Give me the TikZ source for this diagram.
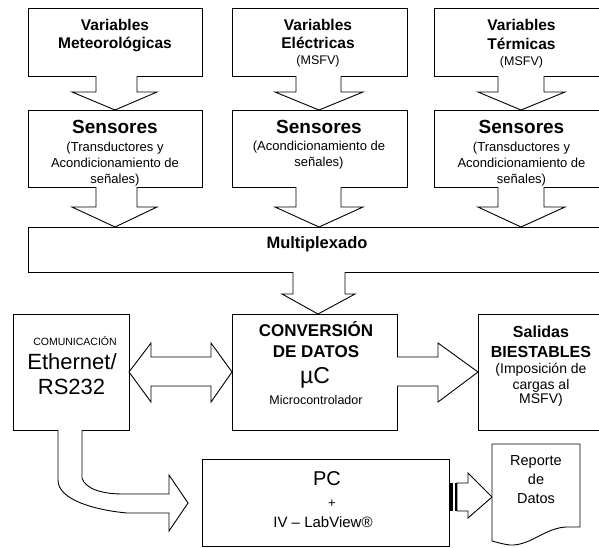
\documentclass[tikz,border=0pt]{standalone}
\usepackage{fontspec}
\setmainfont{Liberation Sans}
\usetikzlibrary{calc}
\newcommand\mergedarrow[3]{%
  \fill[white] #1 -- #3 -- #2 -- cycle;
  \draw[white, line width=1.6pt] #1 -- #2;
  \draw[ln] #1 -- #3 -- #2;
}
\begin{document}
\begin{tikzpicture}[x=1pt,y=-1pt,
  ln/.style={line width=0.9pt, line join=miter},
  box/.style={draw, ln, fill=white, inner sep=0pt, outer sep=0pt},
  t/.style={inner sep=0pt, anchor=base},
  fT/.style={t, font=\fontsize{15.5}{18}\selectfont\bfseries},
  fS/.style={t, font=\fontsize{19}{22}\selectfont\bfseries},
  fs/.style={t, font=\fontsize{13}{15}\selectfont},
  fm/.style={t, font=\fontsize{12.5}{14}\selectfont},
  fM/.style={t, font=\fontsize{16.5}{18}\selectfont\bfseries},
  fc/.style={t, font=\fontsize{10.5}{12}\selectfont},
  fE/.style={t, font=\fontsize{22}{24}\selectfont},
  fC/.style={t, font=\fontsize{17}{19}\selectfont\bfseries},
  fmu/.style={t, font=\fontsize{23}{25}\selectfont},
  fmi/.style={t, font=\fontsize{12.5}{14}\selectfont},
  fB/.style={t, font=\fontsize{16}{18}\selectfont\bfseries},
  fi/.style={t, font=\fontsize{14}{15}\selectfont},
  fP/.style={t, font=\fontsize{20}{22}\selectfont},
  fpl/.style={t, font=\fontsize{13}{14}\selectfont},
  fL/.style={t, font=\fontsize{15}{17}\selectfont},
  fr/.style={t, font=\fontsize{14.5}{16}\selectfont}]
\useasboundingbox (0,0) rectangle (599,547);
\fill[white] (0,0) rectangle (599,547);
\clip (0,0) rectangle (599,547);

% boxes
\node[box, minimum width=174pt, minimum height=68pt] (b1) at (115,42) {};
\node[box, minimum width=175pt, minimum height=68pt] (b2) at (319.5,42) {};
\node[box, minimum width=176pt, minimum height=68pt] (b3) at (522,42) {};
\node[box, minimum width=174pt, minimum height=77pt] (s1) at (115,148.5) {};
\node[box, minimum width=175pt, minimum height=77pt] (s2) at (319.5,148.5) {};
\node[box, minimum width=176pt, minimum height=77pt] (s3) at (522,148.5) {};
\node[box, minimum width=584pt, minimum height=45pt] (mux) at (320,249.5) {};
\node[box, minimum width=116pt, minimum height=116pt] (comm) at (71,372) {};
\node[box, minimum width=165pt, minimum height=116pt] (conv) at (314.5,372) {};
\node[box, minimum width=134pt, minimum height=116pt] (sal) at (545,372) {};
\node[box, minimum width=247pt, minimum height=87pt] (pc) at (325.5,502.5) {};
\node[inner sep=0pt, outer sep=0pt, minimum width=88pt, minimum height=97pt] (rep) at (536,492.5) {};

% down arrows
\mergedarrow{(96,0 |- b1.south)}{(137,0 |- b1.south)}{(96,92) -- (72,92) -- (115,0 |- s1.north) -- (157,92) -- (137,92)}
\mergedarrow{(296,0 |- b2.south)}{(341,0 |- b2.south)}{(296,92) -- (275,92) -- (319,0 |- s2.north) -- (363,92) -- (341,92)}
\mergedarrow{(498,0 |- b3.south)}{(544,0 |- b3.south)}{(498,92) -- (478,92) -- (521,0 |- s3.north) -- (565,92) -- (544,92)}
\mergedarrow{(96,0 |- s1.south)}{(137,0 |- s1.south)}{(96,207) -- (72,207) -- (115,0 |- mux.north) -- (157,207) -- (137,207)}
\mergedarrow{(296,0 |- s2.south)}{(341,0 |- s2.south)}{(296,207) -- (275,207) -- (319,0 |- mux.north) -- (363,207) -- (341,207)}
\mergedarrow{(498,0 |- s3.south)}{(544,0 |- s3.south)}{(498,207) -- (478,207) -- (521,0 |- mux.north) -- (565,207) -- (544,207)}
\mergedarrow{(293,0 |- mux.south)}{(345,0 |- mux.south)}{(293,294) -- (282,294) -- (318,0 |- conv.north) -- (355,294) -- (345,294)}

% double arrow
\draw[ln, fill=white] (comm.east) -- (151,343) -- (151,357) -- (211,357) -- (211,343) -- (conv.west)
  -- (211,402) -- (211,386) -- (151,386) -- (151,402) -- cycle;

% conv -> salidas
\mergedarrow{(conv.east |- 0,357)}{(conv.east |- 0,386)}{(438,357) -- (438,343) -- (sal.west) -- (438,402) -- (438,386)}

% curved arrow comm -> pc
\coordinate (ctip) at (188,503);
\mergedarrow{(58,0 |- comm.south)}{(82,0 |- comm.south)}{(58,480) .. controls (58,500) and (95,510) .. (127,513) -- (169,513) -- (169,531) -- (ctip) -- (169,475) -- (169,494) -- (123,494) .. controls (100,494) and (85,488) .. (82,478)}

% pc -> reporte striped arrow
\fill[black] (450,483) rectangle (452.5,511);
\fill[black] (454.5,483) rectangle (457,511);
\draw[ln, fill=white] (457,483) -- (468,483) -- (468,473) -- (rep.west |- 0,497) -- (468,518) -- (468,511) -- (457,511) -- cycle;

% document shape
\draw[ln, fill=white] (rep.north west) -- (rep.north east) -- (580,527) -- (566,527)
  .. controls (545,528) and (530,546) .. (510,545)
  .. controls (502,544) and (496,542) .. (rep.south west) -- cycle;

% texts
\node[fT] (b1a) at (115,30) {Variables};
\node[fT] (b1b) at (115,48) {Meteorológicas};
\node[fT] (b2a) at (318,30) {Variables};
\node[fT] (b2b) at (318,48) {Eléctricas};
\node[fm] (b2c) at (318,64) {(MSFV)};
\node[fT] (b3a) at (521.5,30) {Variables};
\node[fT] (b3b) at (521.5,49) {Térmicas};
\node[fm] (b3c) at (521.5,65) {(MSFV)};

\node[fS] (s1a) at (115,133) {Sensores};
\node[fs] (s1b) at (115,151) {(Transductores y};
\node[fs] (s1c) at (115,167) {Acondicionamiento de};
\node[fs] (s1d) at (115,183) {señales)};
\node[fS] (s2a) at (319,133) {Sensores};
\node[fs] (s2b) at (319,150) {(Acondicionamiento de};
\node[fs] (s2c) at (319,166) {señales)};
\node[fS] (s3a) at (521.5,133) {Sensores};
\node[fs] (s3b) at (521.5,151) {(Transductores y};
\node[fs] (s3c) at (521.5,167) {Acondicionamiento de};
\node[fs] (s3d) at (521.5,183) {señales)};

\node[fM] (muxt) at (317,248) {Multiplexado};

\node[fc] (cm1) at (75,345) {COMUNICACIÓN};
\node[fE] (cm2) at (72,369) {Ethernet/};
\node[fE] (cm3) at (71.5,394) {RS232};

\node[fC] (cv1) at (316,336) {CONVERSIÓN};
\node[fC] (cv2) at (316,357) {DE DATOS};
\node[fmu] (cv3) at (315,383) {µC};
\node[fmi] (cv4) at (316,404) {Microcontrolador};

\node[fB] (sl1) at (541,337) {Salidas};
\node[fB] (sl2) at (541,357) {BIESTABLES};
\node[fi] (sl3) at (541,373) {(Imposición de};
\node[fi] (sl4) at (541,389) {cargas al};
\node[fi] (sl5) at (541,403) {MSFV)};

\node[fP] (pc1) at (327,485) {PC};
\node[fpl] (pc2) at (332,507) {+};
\node[fL] (pc3) at (323,527) {IV – LabView®};

\node[fr] (rp1) at (536,465) {Reporte};
\node[fr] (rp2) at (536,484) {de};
\node[fr] (rp3) at (536,503) {Datos};
\end{tikzpicture}
\end{document}
